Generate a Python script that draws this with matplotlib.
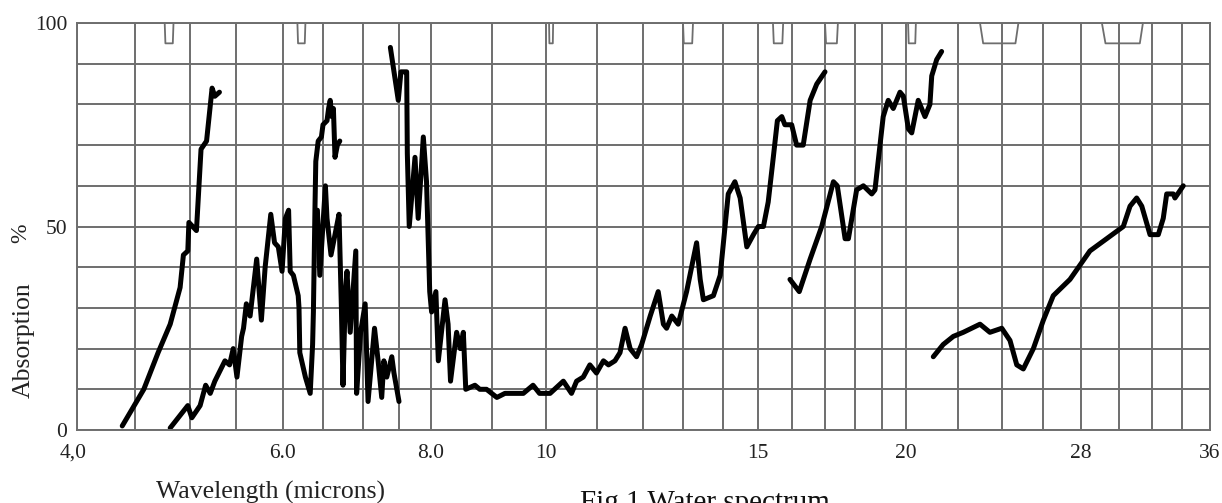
import numpy as np
import matplotlib
matplotlib.use('Agg')
import matplotlib.pyplot as plt
from matplotlib.transforms import ScaledTranslation

plt.rcParams['font.family'] = ['Liberation Serif', 'DejaVu Serif']

# vertical chart lines: wavelength and place along the chart paper
grid_wl = [4.0, 4.5, 5.0, 5.5, 6.0, 6.5, 7.0, 7.5, 8.0, 9, 10, 11, 12, 13, 14, 15,
           16, 17, 18, 19, 20, 22, 24, 26, 28, 30, 32, 34, 36]
grid_pos = [0, 58, 113, 159, 206, 246, 286, 322, 354, 415, 469, 520, 566, 606, 646,
            681, 715, 748, 778, 805, 829, 881, 925, 966, 1004, 1042, 1075, 1105, 1133]

tick_wl = [4, 6, 8, 10, 15, 20, 28, 36]
tick_text = ['4,0', '6.0', '8.0', '10', '15', '20', '28', '36']

# calibration notches hanging from the top edge (start, end wavelength)
notch_start = [4.77, 6.18, 10.06, 13.0, 15.44, 17.0, 20.08, 23.0, 29.1]
notch_end = [4.85, 6.28, 10.14, 13.25, 15.74, 17.43, 20.38, 24.8, 31.45]

# absorption traces (wavelength in microns, absorption in %)
band1_wl = [4.39, 4.58, 4.71, 4.82, 4.91, 4.94, 4.98, 4.99, 5.07, 5.12, 5.18, 5.24,
            5.27, 5.32]
band1_abs = [1, 10, 19, 26, 35, 43, 44, 51, 49, 69, 71, 84, 82, 83]

band2_wl = [4.82, 4.98, 5.02, 5.11, 5.17, 5.22, 5.27, 5.38, 5.43, 5.47, 5.51, 5.56,
            5.58, 5.61, 5.65, 5.72, 5.77, 5.81, 5.87, 5.91, 5.95, 5.99, 6.03, 6.07,
            6.09, 6.13, 6.19, 6.20, 6.21, 6.28, 6.34, 6.37, 6.38, 6.40, 6.41, 6.44,
            6.48, 6.50, 6.55, 6.57, 6.59, 6.61, 6.63, 6.65, 6.68, 6.71]
band2_abs = [0.5, 6, 3, 6, 11, 9, 12, 17, 16, 20, 13, 23,
             25, 31, 28, 42, 27, 40, 53, 46, 45, 39, 52, 54,
             39, 38, 33, 30, 19, 13, 9, 21, 29, 55, 66, 71,
             72, 75, 76, 79, 81, 77, 79, 67, 70, 71]

band3_wl = [6.43, 6.46, 6.53, 6.55, 6.60, 6.65, 6.70, 6.73, 6.75, 6.78, 6.80, 6.84,
            6.91, 6.92, 6.97, 7.03, 7.07, 7.16, 7.21, 7.26, 7.29, 7.33, 7.40, 7.43,
            7.50]
band3_abs = [54, 38, 60, 52, 43, 48, 53, 30, 11, 34, 39, 24,
             44, 9, 24, 31, 7, 25, 17, 8, 17, 13, 18, 14,
             7]

band4_wl = [7.38, 7.49, 7.53, 7.59, 7.62, 7.63, 7.66, 7.75, 7.80, 7.88, 7.93, 7.98,
            8.01, 8.08, 8.12, 8.23, 8.28, 8.32, 8.42, 8.48, 8.53, 8.57, 8.72, 8.80,
            8.91, 9.09, 9.24, 9.39, 9.58, 9.76, 9.88, 10.08, 10.34, 10.50, 10.60,
            10.73, 10.86, 10.99, 11.14, 11.25, 11.39, 11.50, 11.61, 11.72, 11.86,
            11.97, 12.18, 12.38, 12.51, 12.59, 12.72, 12.88, 13.09, 13.34, 13.43,
            13.51, 13.76, 13.93, 14.15, 14.34, 14.49, 14.68, 14.87, 15.01, 15.16,
            15.30, 15.45, 15.57, 15.70, 15.79, 15.99, 16.14, 16.34, 16.55, 16.75,
            17.0]
band4_abs = [94, 81, 88, 88, 88, 68, 50, 67, 52, 72, 61, 34,
             29, 34, 17, 32, 26, 12, 24, 20, 24, 10, 11, 10,
             10, 8, 9, 9, 9, 11, 9, 9, 12, 9, 12,
             13, 16, 14, 17, 16, 17, 19, 25, 20, 18,
             21, 28, 34, 26, 25, 28, 26, 34, 46, 37,
             32, 33, 38, 58, 61, 57, 45, 48, 50, 50,
             56, 67, 76, 77, 75, 75, 70, 70, 81, 85,
             88]

band5_wl = [15.94, 16.22, 16.55, 16.90, 17.28, 17.41, 17.67, 17.78, 18.06, 18.31,
            18.62, 18.74, 19.05, 19.26, 19.47, 19.75, 19.89, 20.09, 20.22, 20.47,
            20.73, 20.92, 20.99, 21.18, 21.37]
band5_abs = [37, 34, 42, 50, 61, 60, 47, 47, 59, 60,
             58, 59, 77, 81, 79, 83, 82, 74, 73, 81,
             77, 80, 87, 91, 93]

band6_wl = [21.05, 21.43, 21.82, 22.24, 23.0, 23.45, 23.99, 24.39, 24.72, 25.04,
            25.53, 26.02, 26.54, 27.42, 28.47, 29.35, 30.26, 30.67, 31.07, 31.38,
            31.88, 32.42, 32.75, 32.98, 33.42, 33.53, 34.09]
band6_abs = [18, 21, 23, 24, 26, 24, 25, 22, 16, 15,
             20, 27, 33, 37, 44, 47, 50, 55, 57, 55,
             48, 48, 52, 58, 58, 57, 60]

bands = [(band1_wl, band1_abs), (band2_wl, band2_abs), (band3_wl, band3_abs),
         (band4_wl, band4_abs), (band5_wl, band5_abs), (band6_wl, band6_abs)]

grid_color = '#6e6e6e'


def to_paper(wl):
    return np.interp(wl, grid_wl, grid_pos)


def from_paper(p):
    return np.interp(p, grid_pos, grid_wl)


fig = plt.figure(figsize=(12.22, 5.03), dpi=100)
ax = fig.add_axes([77 / 1222, 73 / 503, 1133 / 1222, 407 / 503])
ax.set_xscale('function', functions=(to_paper, from_paper))
ax.set_xlim(4, 36)
ax.set_ylim(0, 100)

ax.set_xticks(tick_wl)
ax.set_xticklabels(tick_text)
ax.set_xticks(grid_wl, minor=True)
ax.set_yticks(np.arange(0, 101, 10))
ax.set_yticklabels(['0', '', '', '', '', '50', '', '', '', '', '100'])
ax.tick_params(which='both', length=0, labelsize=15.5, colors='#222222')
ax.tick_params(axis='x', pad=10)
ax.tick_params(axis='y', pad=7)
ax.grid(which='both', color=grid_color, lw=1.4)
ax.set_axisbelow(True)
for s in ax.spines.values():
    s.set_color(grid_color)
    s.set_linewidth(1.4)

# the first wavelength label sits a little left of its line
first = ax.get_xticklabels()[0]
first.set_transform(first.get_transform() + ScaledTranslation(-4 / 100, 0, fig.dpi_scale_trans))

# notches along the top edge
for a, b in zip(notch_start, notch_end):
    d = 0.08 * (b - a)
    ax.plot([a, a + d, b - d, b], [100, 95, 95, 100], color=grid_color, lw=1.3,
            clip_on=False)

for wl, ab in bands:
    ax.plot(wl, ab, color='black', lw=3.6, solid_joinstyle='round',
            solid_capstyle='round')

fig.text(21 / 1222, 1 - 233 / 503, '%', rotation=90, ha='center', va='center',
         fontsize=17, color='#222222')
fig.text(24 / 1222, 1 - 340 / 503, 'Absorption', rotation=90, ha='center',
         va='center', fontsize=18.5, color='#222222')
fig.text(271 / 1222, 1 - 492 / 503, 'Wavelength (microns)', ha='center',
         va='center', fontsize=18.5, color='#222222')
fig.text(580 / 1222, 1 - 490 / 503, 'Fig.1 Water spectrum', ha='left', va='top',
         fontsize=21, color='#111111')

fig.savefig('out.png', dpi=100)
